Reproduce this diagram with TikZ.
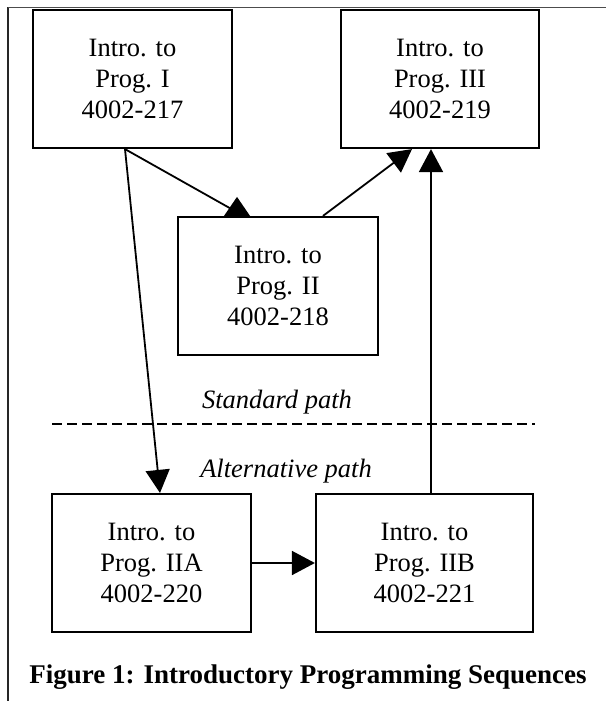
\documentclass[tikz,border=0pt]{standalone}
\usepackage{fontspec}
\setmainfont{Liberation Serif}
\usetikzlibrary{arrows.meta}

\tikzset{
  course/.style={draw, line width=2.2pt, inner sep=0pt, align=center,
    minimum height=138pt, font=\fontsize{26.5}{31}\selectfont},
  link/.style={line width=1.8pt},
  linkhead/.style={link, -{Triangle[length=23pt,width=24pt]}},
  pathlabel/.style={anchor=base, font=\fontsize{26.5}{31}\selectfont\itshape},
  frameline/.style={line width=1.6pt}
}

\begin{document}
\begin{tikzpicture}[x=1pt, y=-1pt]
  \useasboundingbox (0,0) rectangle (606,701);

  % page frame (left and top rules)
  \draw[frameline, black!85] (8,701) -- (8,7.5);
  \draw[frameline, black!70] (8,7.5) -- (606,7.5);

  % course boxes
  \node[course, minimum width=199pt] (p1) at (132.5,79)  {Intro. to\\Prog. I\\4002-217};
  \node[course, minimum width=198pt] (p3) at (440,79)    {Intro. to\\Prog. III\\4002-219};
  \node[course, minimum width=200pt] (p2) at (278,286)   {Intro. to\\Prog. II\\4002-218};
  \node[course, minimum width=199pt] (pA) at (151.5,563) {Intro. to\\Prog. IIA\\4002-220};
  \node[course, minimum width=217pt] (pB) at (424.5,563) {Intro. to\\Prog. IIB\\4002-221};

  % separator between the two paths
  \coordinate (sepL) at (52,424);
  \coordinate (sepR) at (535,424);
  \draw[line width=2pt, dash pattern=on 10pt off 5pt] (sepL) -- (sepR);
  \node[pathlabel] (std) at (277,408) {Standard path};
  \node[pathlabel] (alt) at (286,477) {Alternative path};

  % standard path
  \coordinate (p1out) at ([xshift=-7.5pt]p1.south);
  \draw[link] (p1out) -- ([xshift=-45pt,yshift=6pt]p2.north);
  \fill ([xshift=-41pt,yshift=19pt]p2.north) -- ([xshift=-54pt]p2.north)
        -- ([xshift=-28pt]p2.north) -- cycle;
  \draw[linkhead] ([xshift=45pt]p2.north) -- ([xshift=-28pt]p3.south);

  % alternative path
  \draw[linkhead] (p1out) -- ([xshift=8.5pt]pA.north);
  \draw[linkhead] (pA.east) -- (pB.west);
  \draw[linkhead] ([xshift=6.5pt]pB.north) -- ([xshift=6.5pt]pB.north |- p3.south);

  % caption
  \node[anchor=base, font=\fontsize{27}{31}\selectfont\bfseries] (cap) at (308,683)
    {Figure 1: Introductory Programming Sequences};
\end{tikzpicture}
\end{document}
